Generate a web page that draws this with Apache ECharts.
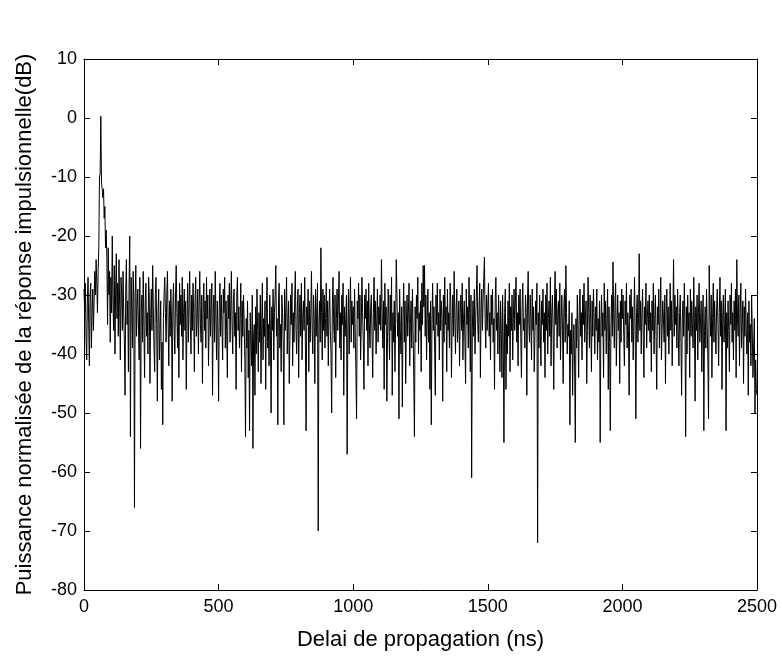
<!DOCTYPE html>
<html>
<head>
<meta charset="utf-8">
<script src="https://cdn.jsdelivr.net/npm/echarts@6/dist/echarts.min.js"></script>
<style>html,body{margin:0;padding:0;background:#fff}#c{width:782px;height:656px}</style>
</head>
<body>
<div id="c"></div>
<script>
// sampling step of the impulse response (ns)
var stepNs = 2.5;
// normalised impulse-response power (dB), one value per sample
var powerDb = [
-29,-33,-28,-37,-41,-31,-27,-35,-42,-30,-28,-39,-33,-29,-36,-31,-26,-30,-24,-28,
-33,-26,-22,-10,-9.5,0.3,-11,-12,-13.5,-12,-17,-15,-22,-19,-24,-35,-22,-30,-26,-38,
-27,-33,-20,-31,-36,-25,-40,-29,-23,-34,-28,-37,-24,-32,-41,-27,-30,-36,-26,-33,
-38,-47,-29,-24,-35,-31,-43,-28,-20,-54,-27,-33,-39,-26,-31,-66,-30,-25,-37,-32,
-29,-36,-41,-27,-56,-33,-30,-38,-26,-35,-44,-31,-28,-37,-33,-40,-27,-30,-45,-34,
-29,-36,-25,-32,-39,-43,-30,-27,-35,-48,-33,-29,-41,-36,-31,-46,-38,-52,-34,-30,
-27,-33,-38,-30,-26,-35,-42,-31,-37,-29,-34,-48,-32,-28,-36,-40,-30,-25,-33,-39,
-31,-44,-28,-35,-30,-37,-27,-41,-33,-29,-36,-31,-46,-34,-28,-38,-32,-26,-35,-40,
-30,-36,-28,-33,-43,-31,-27,-37,-34,-29,-40,-32,-26,-35,-38,-30,-45,-33,-28,-36,
-31,-39,-27,-34,-30,-42,-35,-29,-37,-32,-28,-47,-33,-30,-38,-26,-34,-41,-31,-36,
-48,-32,-28,-37,-30,-35,-41,-29,-33,-27,-39,-31,-36,-44,-30,-34,-28,-38,-32,-26,
-35,-40,-31,-29,-37,-33,-46,-30,-27,-36,-32,-39,-34,-28,-43,-31,-37,-30,-35,-41,
-54,-34,-39,-31,-44,-36,-53,-33,-38,-42,-30,-56,-37,-35,-47,-32,-40,-29,-36,-43,
-33,-38,-30,-45,-35,-28,-41,-34,-37,-31,-46,-33,-27,-39,-35,-42,-30,-36,-50,-32,
-36,-29,-41,-33,-30,-25,-37,-34,-52,-31,-28,-39,-35,-43,-30,-33,-38,-52,-29,-36,
-32,-27,-40,-34,-31,-45,-37,-30,-35,-28,-42,-33,-38,-31,-26,-36,-40,-32,-29,-44,
-33,-30,-37,-28,-41,-34,-31,-36,-27,-39,-53,-32,-35,-29,-43,-31,-38,-33,-26,-36,
-40,-30,-34,-45,-29,-37,-32,-28,-70,-35,-31,-38,-22,-33,-41,-29,-36,-30,-39,-34,
-28,-37,-31,-42,-33,-29,-36,-40,-50,-32,-27,-35,-38,-30,-44,-34,-29,-36,-31,-26,
-39,-33,-41,-30,-35,-28,-47,-32,-37,-34,-30,-57,-36,-29,-40,-33,-27,-38,-31,-35,
-32,-39,-29,-36,-43,-51,-31,-34,-28,-37,-30,-41,-35,-27,-33,-38,-46,-30,-34,-29,
-36,-31,-42,-28,-35,-39,-32,-30,-37,-44,-33,-27,-36,-31,-40,-34,-29,-38,-32,-35,
-30,-36,-24,-33,-39,-31,-46,-28,-35,-32,-48,-37,-29,-34,-41,-30,-36,-27,-47,-33,
-38,-31,-43,-35,-24,-30,-37,-33,-51,-29,-36,-40,-32,-49,-34,-28,-38,-31,-45,-35,
-30,-37,-33,-28,-42,-35,-31,-39,-29,-36,-44,-54,-32,-38,-30,-34,-27,-40,-33,-36,
-31,-43,-28,-35,-25,-32,-25,-37,-30,-41,-34,-29,-38,-33,-46,-31,-52,-35,-28,-36,
-32,-39,-47,-30,-35,-28,-37,-33,-41,-29,-36,-31,-34,-48,-30,-38,-27,-35,-32,-43,
-29,-36,-33,-39,-28,-31,-44,-35,-30,-37,-26,-34,-40,-32,-29,-38,-35,-31,-42,-33,
-30,-36,-28,-41,-34,-31,-38,-45,-29,-35,-32,-39,-27,-33,-43,-30,-61,-36,-31,-37,
-29,-40,-34,-30,-25,-35,-38,-32,-28,-44,-33,-29,-36,-31,-27,-23.6,-34,-39,-30,-36,
-32,-28,-37,-33,-41,-30,-35,-29,-38,-34,-46,-31,-27,-36,-33,-40,-30,-35,-43,-31,
-36,-44,-30,-38,-55,-33,-29,-46,-35,-40,-31,-37,-28,-43,-32,-36,-30,-41,-34,-29,
-36,-31,-27,-38,-33,-42,-30,-35,-29,-37,-44,-32,-28,-36,-34,-39,-30,-33,-47,-31,
-26,-35,-38,-30,-34,-41,-29,-36,-32,-43,-37,-31,-35,-28,-72,-33,-39,-30,-36,-42,
-31,-35,-29,-38,-33,-44,-30,-36,-28,-40,-34,-31,-37,-27,-42,-33,-30,-36,-46,-32,
-26,-35,-29,-39,-33,-31,-37,-28,-41,-34,-30,-36,-45,-32,-29,-38,-25,-33,-40,-35,
-37,-31,-52,-36,-40,-33,-47,-38,-35,-42,-55,-34,-39,-30,-36,-44,-32,-29,-37,-33,
-41,-30,-35,-28,-38,-34,-31,-45,-36,-27,-33,-39,-30,-35,-43,-31,-37,-29,-34,-40,
-32,-36,-29,-41,-34,-38,-31,-55,-35,-30,-37,-33,-44,-28,-36,-31,-40,-34,-29,-46,
-32,-38,-53,-35,-30,-37,-24.4,-33,-39,-31,-28,-42,-35,-30,-36,-33,-45,-31,-38,-29,
-34,-30,-37,-42,-31,-35,-28,-39,-33,-36,-47,-30,-34,-29,-38,-32,-41,-35,-27,-36,
-51,-33,-30,-38,-34,-23,-36,-31,-40,-33,-29,-37,-44,-32,-35,-28,-39,-34,-31,-36,
-30,-38,-33,-43,-31,-36,-28,-40,-34,-30,-37,-46,-32,-35,-29,-39,-33,-27,-41,-36,
-31,-34,-38,-30,-45,-33,-29,-37,-32,-40,-35,-28,-36,-31,-42,-34,-24,-37,-30,-35,
-32,-39,-29,-36,-42,-33,-30,-38,-47,-34,-31,-37,-28,-35,-54,-32,-40,-30,-36,-33,
-44,-29,-37,-31,-35,-39,-27,-34,-48,-32,-36,-30,-41,-33,-28,-38,-35,-31,-43,-34,
-30,-53,-36,-32,-39,-29,-35,-41,-51,-25,-33,-37,-30,-44,-34,-28,-38,-31,-36,-40,
-32,-29,-35,-42,-33,-27,-37,-31,-46,-34,-30,-38,-35,-29,-53,-33,-39,-31,-36,-43,
-30,-35,-28,-38,-33,-41,-31,-36,-29,-44,-24,-34,-37,-30,-42,-33,-28,-39,-35,-31,
-45,-32,-37,-29,-36,-40,-33,-47,-31,-38,-35,-42,-30,-36,-44,-39,-34,-50,-41,-46,
-47
];
var xTicks = [0, 500, 1000, 1500, 2000, 2500];
var yTicks = [10, 0, -10, -20, -30, -40, -50, -60, -70, -80];
var xTitle = 'Delai de propagation (ns)';
var yTitle = 'Puissance normalisée de la réponse impulsionnelle(dB)';

var seriesData = powerDb.map(function (v, i) { return [i * stepNs, v]; });

var font = "'Liberation Sans', Arial, Helvetica, sans-serif";
var axisCol = '#000';
function plain(v) { return String(v); }
function xAxisCfg(pos, show) {
  return {
    type: 'value', position: pos, min: xTicks[0], max: xTicks[xTicks.length - 1], interval: 500,
    axisLine: { show: true, onZero: false, lineStyle: { color: axisCol, width: 1 } },
    axisTick: { show: true, inside: true, length: 6, lineStyle: { color: axisCol } },
    axisLabel: { show: show, color: '#000', fontSize: 18, fontFamily: font, margin: 8, formatter: plain },
    splitLine: { show: false },
    name: show ? xTitle : '', nameLocation: 'middle', nameGap: 39,
    nameTextStyle: { color: '#000', fontSize: 22, fontFamily: font }
  };
}
function yAxisCfg(pos, show) {
  return {
    type: 'value', position: pos, min: yTicks[yTicks.length - 1], max: yTicks[0], interval: 10,
    axisLine: { show: true, onZero: false, lineStyle: { color: axisCol, width: 1 } },
    axisTick: { show: true, inside: true, length: 6, lineStyle: { color: axisCol } },
    axisLabel: { show: show, color: '#000', fontSize: 18, fontFamily: font, margin: 7, formatter: plain },
    splitLine: { show: false },
    name: show ? yTitle : '', nameLocation: 'middle', nameGap: 48, nameRotate: 90,
    nameTextStyle: { color: '#000', fontSize: 22, fontFamily: font }
  };
}
var chart = echarts.init(document.getElementById('c'), null, { renderer: 'canvas' });
chart.setOption({
  animation: false,
  backgroundColor: '#fff',
  grid: { left: 84, right: 25, top: 59, bottom: 66, containLabel: false },
  xAxis: [xAxisCfg('bottom', true), xAxisCfg('top', false)],
  yAxis: [yAxisCfg('left', true), yAxisCfg('right', false)],
  series: [{
    type: 'line', xAxisIndex: 0, yAxisIndex: 0, data: seriesData,
    showSymbol: false, symbol: 'none', lineStyle: { color: '#000', width: 1 },
    clip: true
  }]
});
</script>
</body>
</html>
